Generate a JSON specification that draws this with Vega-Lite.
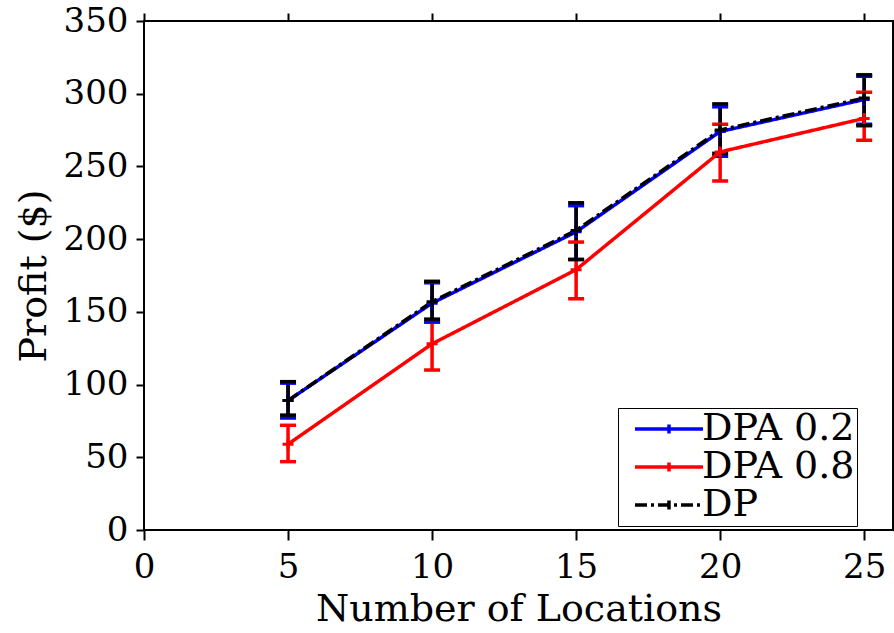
{
  "$schema": "https://vega.github.io/schema/vega-lite/v6.json",
  "width": 749,
  "height": 509,
  "autosize": {"type": "none"},
  "padding": {"left": 144, "top": 21, "right": 1, "bottom": 103},
  "background": "white",
  "config": {
    "font": "DejaVu Serif",
    "view": {"stroke": "black", "strokeWidth": 2},
    "axis": {
      "grid": false,
      "domain": false,
      "tickColor": "black",
      "tickWidth": 2,
      "labelColor": "black",
      "labelFont": "DejaVu Serif",
      "labelFontSize": 34,
      "labelFlush": false,
      "titleFont": "DejaVu Serif",
      "titleFontSize": 38,
      "titleFontWeight": "normal",
      "titleColor": "black"
    },
    "legend": {
      "orient": "none",
      "legendX": 474,
      "legendY": 387,
      "fillColor": "white",
      "strokeColor": "black",
      "padding": 2,
      "symbolType": "M-3,0L3,0M0,-0.4L0,0.4",
      "symbolSize": 514,
      "symbolStrokeWidth": 3.5,
      "symbolOffset": 30,
      "labelFont": "DejaVu Serif",
      "labelFontSize": 38,
      "labelColor": "black",
      "labelOffset": 14,
      "labelLimit": 0,
      "rowPadding": 0
    }
  },
  "data": {
    "values": [
      {"series": "DPA 0.8", "n": 5, "profit": 59, "lo": 47, "hi": 72},
      {"series": "DPA 0.8", "n": 10, "profit": 128, "lo": 110, "hi": 143},
      {"series": "DPA 0.8", "n": 15, "profit": 179, "lo": 159, "hi": 198},
      {"series": "DPA 0.8", "n": 20, "profit": 260, "lo": 240, "hi": 279},
      {"series": "DPA 0.8", "n": 25, "profit": 283, "lo": 268, "hi": 301},
      {"series": "DPA 0.2", "n": 5, "profit": 89, "lo": 77, "hi": 101},
      {"series": "DPA 0.2", "n": 10, "profit": 156, "lo": 143, "hi": 170},
      {"series": "DPA 0.2", "n": 15, "profit": 205, "lo": 186, "hi": 223},
      {"series": "DPA 0.2", "n": 20, "profit": 274, "lo": 257, "hi": 291},
      {"series": "DPA 0.2", "n": 25, "profit": 296, "lo": 279, "hi": 312},
      {"series": "DP", "n": 5, "profit": 89, "lo": 79, "hi": 102},
      {"series": "DP", "n": 10, "profit": 157, "lo": 145, "hi": 171},
      {"series": "DP", "n": 15, "profit": 206, "lo": 186, "hi": 225},
      {"series": "DP", "n": 20, "profit": 275, "lo": 259, "hi": 293},
      {"series": "DP", "n": 25, "profit": 297, "lo": 278, "hi": 313}
    ]
  },
  "resolve": {"axis": {"x": "independent", "y": "independent"}},
  "layer": [
    {
      "mark": {"type": "rule", "strokeWidth": 3.5},
      "encoding": {
        "x": {"field": "n", "type": "quantitative", "scale": {"domain": [0, 26], "nice": false},
              "axis": {"orient": "top", "values": [0, 5, 10, 15, 20, 25], "labels": false, "title": null, "tickSize": 8}},
        "y": {"field": "lo", "type": "quantitative", "scale": {"domain": [0, 350], "nice": false},
              "axis": {"orient": "right", "values": [0, 50, 100, 150, 200, 250, 300, 350], "labels": false, "title": null, "tickSize": 8}},
        "y2": {"field": "hi"},
        "color": {"field": "series", "type": "nominal", "title": null,
                  "scale": {"domain": ["DPA 0.2", "DPA 0.8", "DP"], "range": ["#0000ff", "#ff0000", "#000000"]}}
      }
    },
    {
      "mark": {"type": "tick", "orient": "horizontal", "size": 16, "thickness": 3.5, "opacity": 1},
      "encoding": {
        "x": {"field": "n", "type": "quantitative", "axis": null},
        "y": {"field": "hi", "type": "quantitative", "axis": null},
        "color": {"field": "series", "type": "nominal", "title": null}
      }
    },
    {
      "mark": {"type": "tick", "orient": "horizontal", "size": 16, "thickness": 3.5, "opacity": 1},
      "encoding": {
        "x": {"field": "n", "type": "quantitative", "axis": null},
        "y": {"field": "lo", "type": "quantitative", "axis": null},
        "color": {"field": "series", "type": "nominal", "title": null}
      }
    },
    {
      "mark": {"type": "line", "strokeWidth": 3.5},
      "encoding": {
        "x": {"field": "n", "type": "quantitative",
              "axis": {"orient": "bottom", "values": [0, 5, 10, 15, 20, 25], "tickSize": 10, "labelPadding": 10,
                       "title": "Number of Locations", "titlePadding": 6}},
        "y": {"field": "profit", "type": "quantitative",
              "axis": {"orient": "left", "values": [0, 50, 100, 150, 200, 250, 300, 350], "tickSize": 8, "labelPadding": 8,
                       "title": "Profit ($)", "titlePadding": 10}},
        "color": {"field": "series", "type": "nominal", "title": null},
        "strokeDash": {"field": "series", "type": "nominal", "title": null,
                       "scale": {"domain": ["DPA 0.2", "DPA 0.8", "DP"], "range": [[1, 0], [1, 0], [12, 4, 3, 4]]}},
        "order": {"field": "n", "type": "quantitative"}
      }
    },
    {
      "mark": {"type": "point", "shape": "M-1,0L1,0M0,-1L0,1", "filled": false, "size": 120, "strokeWidth": 3, "opacity": 1},
      "encoding": {
        "x": {"field": "n", "type": "quantitative", "axis": null},
        "y": {"field": "profit", "type": "quantitative", "axis": null},
        "color": {"field": "series", "type": "nominal", "title": null}
      }
    }
  ]
}
